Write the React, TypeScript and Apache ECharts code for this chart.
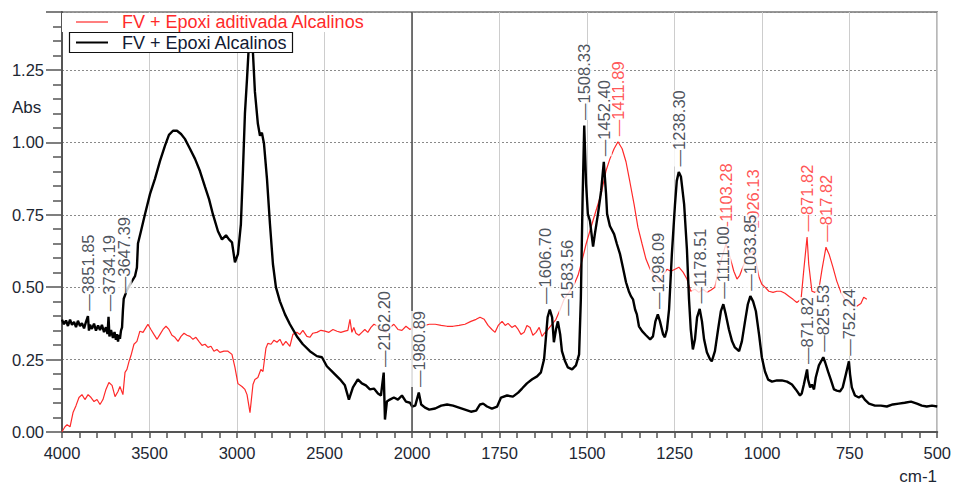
import React, { useEffect, useRef } from "react";
import * as echarts from "echarts";

// The wavenumber axis is compressed 2:1 above 2000 cm-1 (usual FTIR layout).
const BREAK_WN = 2000;
const toAxis = (wn: number) => (wn >= BREAK_WN ? (4000 - wn) / 2 : 1000 + (BREAK_WN - wn));
const fromAxis = (t: number) => Math.round(t <= 1000 ? 4000 - 2 * t : BREAK_WN - (t - 1000));

const xTickLabels = [4000, 3500, 3000, 2500, 2000, 1750, 1500, 1250, 1000, 750, 500];
const yTickLabels = [0, 0.25, 0.5, 0.75, 1.0, 1.25];

const BLACK_NAME = "FV + Epoxi Alcalinos";
const RED_NAME = "FV + Epoxi aditivada Alcalinos";

// FV + Epoxi Alcalinos: wavenumber (cm-1) / absorbance
const blackWn = [
  4000, 3989, 3977, 3966, 3954, 3943, 3931, 3920, 3909, 3897, 3886, 3874, 3863, 3851.85, 3846, 3840,
  3829, 3817, 3806, 3794, 3783, 3772, 3760, 3749, 3740, 3734.19, 3729, 3720, 3709, 3700, 3692, 3686,
  3680, 3674, 3669, 3663, 3657, 3652, 3647.39, 3629, 3606, 3583, 3572, 3566, 3549, 3526, 3497, 3469,
  3440, 3412, 3389, 3366, 3343, 3320, 3298, 3269, 3240, 3212, 3183, 3160, 3138, 3109, 3086, 3063,
  3046, 3029, 3012, 2995, 2978, 2966, 2955, 2943, 2932, 2921, 2909, 2898, 2881, 2869, 2858, 2846,
  2829, 2812, 2795, 2778, 2755, 2726, 2698, 2658, 2624, 2584, 2544, 2515, 2487, 2452, 2412, 2384,
  2361, 2338, 2310, 2287, 2264, 2241, 2218, 2195, 2178, 2162.2, 2155, 2144, 2127, 2104, 2081, 2058,
  2035, 2012, 2000, 1991, 1980.89, 1974, 1963, 1951, 1934, 1917, 1900, 1883, 1866, 1849, 1832, 1817,
  1806, 1797, 1786, 1772, 1757, 1746, 1729, 1712, 1697, 1686, 1672, 1657, 1643, 1632, 1623, 1617,
  1613, 1606.7, 1600, 1595, 1589, 1583.56, 1577, 1572, 1563, 1555, 1543, 1532, 1523, 1518, 1513, 1508.33,
  1503, 1498, 1492, 1483, 1478, 1469, 1460, 1452.4, 1446, 1443, 1435, 1423, 1415, 1406, 1398, 1389,
  1381, 1375, 1369, 1363, 1358, 1352, 1343, 1332, 1320, 1312, 1305, 1298.09, 1292, 1283, 1278, 1272,
  1266, 1258, 1249, 1244, 1238.3, 1232, 1223, 1215, 1209, 1204, 1198, 1192, 1186, 1178.51, 1172, 1166,
  1158, 1149, 1144, 1135, 1126, 1118, 1111.0, 1104, 1095, 1086, 1078, 1066, 1058, 1049, 1041, 1033.85,
  1026, 1018, 1009, 1001, 992, 983, 972, 958, 944, 929, 915, 904, 892, 887, 881, 871.82,
  869, 863, 858, 852, 847, 838, 825.53, 820, 812, 804, 795, 787, 778, 770, 761, 752.24,
  749, 744, 735, 724, 715, 707, 695, 678, 661, 644, 627, 610, 593, 575, 558, 544,
  530, 515, 500,
];
const blackAbs = [
  0.388, 0.372, 0.385, 0.366, 0.388, 0.37, 0.38, 0.362, 0.384, 0.366, 0.376, 0.358, 0.38, 0.4, 0.35, 0.37,
  0.356, 0.374, 0.35, 0.368, 0.352, 0.37, 0.345, 0.362, 0.338, 0.398, 0.33, 0.352, 0.325, 0.345, 0.318, 0.338,
  0.312, 0.335, 0.322, 0.35, 0.361, 0.42, 0.46, 0.49, 0.515, 0.538, 0.568, 0.651, 0.693, 0.752, 0.822, 0.874,
  0.936, 0.988, 1.026, 1.04, 1.04, 1.029, 1.012, 0.978, 0.943, 0.901, 0.846, 0.804, 0.752, 0.693, 0.665, 0.679,
  0.665, 0.655, 0.586, 0.614, 0.718, 0.908, 1.099, 1.22, 1.341, 1.445, 1.307, 1.175, 1.064, 1.023, 1.033, 0.995,
  0.874, 0.718, 0.58, 0.5, 0.451, 0.406, 0.372, 0.33, 0.303, 0.279, 0.262, 0.258, 0.227, 0.206, 0.182, 0.161,
  0.112, 0.154, 0.182, 0.168, 0.161, 0.147, 0.15, 0.133, 0.126, 0.205, 0.043, 0.105, 0.112, 0.119, 0.112, 0.126,
  0.105, 0.101, 0.088, 0.091, 0.136, 0.095, 0.084, 0.077, 0.081, 0.091, 0.095, 0.091, 0.084, 0.077, 0.07, 0.074,
  0.095, 0.098, 0.088, 0.081, 0.088, 0.119, 0.126, 0.122, 0.136, 0.15, 0.168, 0.182, 0.192, 0.206, 0.251, 0.337,
  0.396, 0.423, 0.396, 0.31, 0.354, 0.382, 0.337, 0.279, 0.244, 0.223, 0.216, 0.23, 0.268, 0.458, 0.804, 1.058,
  0.857, 0.753, 0.729, 0.64, 0.683, 0.753, 0.833, 0.933, 0.822, 0.753, 0.711, 0.683, 0.649, 0.614, 0.569, 0.517,
  0.486, 0.469, 0.458, 0.423, 0.406, 0.365, 0.348, 0.334, 0.32, 0.33, 0.382, 0.406, 0.382, 0.337, 0.327, 0.354,
  0.423, 0.614, 0.787, 0.867, 0.898, 0.881, 0.787, 0.631, 0.458, 0.354, 0.285, 0.32, 0.396, 0.425, 0.382, 0.32,
  0.275, 0.251, 0.244, 0.279, 0.354, 0.417, 0.441, 0.406, 0.354, 0.313, 0.292, 0.279, 0.313, 0.382, 0.441, 0.469,
  0.451, 0.417, 0.337, 0.258, 0.209, 0.181, 0.174, 0.178, 0.178, 0.174, 0.164, 0.147, 0.126, 0.133, 0.164, 0.216,
  0.181, 0.154, 0.164, 0.147, 0.188, 0.23, 0.258, 0.24, 0.209, 0.181, 0.147, 0.143, 0.14, 0.154, 0.199, 0.244,
  0.199, 0.154, 0.126, 0.119, 0.126, 0.112, 0.098, 0.091, 0.091, 0.088, 0.095, 0.098, 0.101, 0.105, 0.098, 0.091,
  0.088, 0.091, 0.088,
];

// FV + Epoxi aditivada Alcalinos: wavenumber (cm-1) / absorbance
const redWn = [
  4000, 3983, 3971, 3954, 3937, 3920, 3903, 3886, 3869, 3851, 3834, 3817, 3800, 3783, 3766, 3749,
  3732, 3714, 3697, 3680, 3669, 3652, 3640, 3629, 3617, 3606, 3589, 3572, 3555, 3537, 3520, 3509,
  3492, 3475, 3457, 3440, 3423, 3406, 3389, 3372, 3355, 3337, 3320, 3303, 3286, 3269, 3252, 3235,
  3218, 3200, 3183, 3166, 3149, 3132, 3115, 3098, 3075, 3052, 3029, 3012, 2995, 2972, 2955, 2943,
  2926, 2909, 2898, 2881, 2864, 2852, 2835, 2824, 2806, 2789, 2772, 2755, 2738, 2721, 2698, 2681,
  2658, 2641, 2624, 2601, 2584, 2567, 2544, 2521, 2498, 2475, 2452, 2429, 2407, 2384, 2367, 2355,
  2344, 2333, 2321, 2304, 2287, 2270, 2253, 2235, 2218, 2195, 2172, 2150, 2127, 2104, 2081, 2058,
  2035, 2012, 1997, 1986, 1974, 1963, 1951, 1934, 1917, 1900, 1883, 1866, 1849, 1832, 1817, 1806,
  1794, 1783, 1772, 1763, 1754, 1743, 1734, 1726, 1715, 1706, 1697, 1689, 1680, 1672, 1663, 1655,
  1646, 1637, 1629, 1620, 1612, 1600, 1589, 1577, 1566, 1552, 1537, 1526, 1515, 1503, 1489, 1475,
  1460, 1446, 1435, 1423, 1411.89, 1400, 1389, 1378, 1366, 1355, 1343, 1332, 1320, 1306, 1295, 1283,
  1272, 1261, 1249, 1238, 1226, 1215, 1204, 1192, 1181, 1169, 1158, 1146, 1135, 1124, 1112, 1103.28,
  1092, 1081, 1072, 1064, 1052, 1041, 1026.13, 1018, 1009, 1001, 992, 981, 969, 958, 947, 935,
  924, 912, 901, 889, 881, 871.82, 867, 858, 849, 838, 829, 817.82, 809, 798, 787, 775,
  764, 752, 741, 730, 718, 710, 701,
];
const redAbs = [
  0.001, 0.018, 0.025, 0.018, 0.067, 0.091, 0.119, 0.129, 0.112, 0.129, 0.119, 0.105, 0.112, 0.095, 0.112, 0.147,
  0.171, 0.161, 0.122, 0.14, 0.157, 0.129, 0.206, 0.216, 0.244, 0.264, 0.303, 0.313, 0.348, 0.344, 0.361, 0.372,
  0.354, 0.337, 0.32, 0.337, 0.354, 0.365, 0.354, 0.334, 0.327, 0.313, 0.33, 0.341, 0.334, 0.33, 0.32, 0.327,
  0.313, 0.299, 0.303, 0.292, 0.296, 0.279, 0.285, 0.275, 0.279, 0.279, 0.268, 0.223, 0.167, 0.157, 0.147, 0.129,
  0.067, 0.164, 0.181, 0.188, 0.216, 0.209, 0.289, 0.306, 0.303, 0.317, 0.31, 0.32, 0.299, 0.313, 0.296, 0.337,
  0.344, 0.337, 0.351, 0.33, 0.327, 0.341, 0.344, 0.351, 0.348, 0.344, 0.354, 0.348, 0.344, 0.348, 0.351, 0.389,
  0.344, 0.361, 0.341, 0.334, 0.344, 0.354, 0.344, 0.361, 0.372, 0.365, 0.354, 0.344, 0.361, 0.372, 0.354, 0.351,
  0.365, 0.354, 0.361, 0.361, 0.365, 0.368, 0.372, 0.372, 0.368, 0.365, 0.365, 0.368, 0.372, 0.382, 0.389, 0.396,
  0.389, 0.368, 0.354, 0.344, 0.368, 0.382, 0.368, 0.375, 0.361, 0.368, 0.354, 0.337, 0.344, 0.368, 0.361, 0.334,
  0.344, 0.361, 0.33, 0.344, 0.354, 0.372, 0.389, 0.423, 0.458, 0.482, 0.51, 0.541, 0.59, 0.649, 0.707, 0.763,
  0.822, 0.902, 0.943, 0.978, 1.002, 0.978, 0.933, 0.864, 0.787, 0.707, 0.649, 0.597, 0.562, 0.534, 0.517, 0.541,
  0.562, 0.555, 0.562, 0.569, 0.552, 0.528, 0.486, 0.493, 0.482, 0.493, 0.482, 0.49, 0.5, 0.562, 0.614, 0.65,
  0.604, 0.555, 0.528, 0.541, 0.579, 0.614, 0.625, 0.59, 0.534, 0.51, 0.5, 0.486, 0.482, 0.486, 0.486, 0.479,
  0.469, 0.458, 0.447, 0.458, 0.562, 0.673, 0.579, 0.486, 0.482, 0.493, 0.562, 0.638, 0.614, 0.569, 0.521, 0.482,
  0.458, 0.444, 0.437, 0.434, 0.444, 0.465, 0.458,
];

// Annotated band positions (cm-1)
const blackPeaks = [
  3851.85, 3734.19, 3647.39, 2162.2, 1980.89, 1606.7, 1583.56, 1508.33, 1452.4, 1298.09, 1238.3, 1178.51,
  1111.0, 1033.85, 871.82, 825.53, 752.24,
];
const redPeaks = [1411.89, 1103.28, 1026.13, 871.82, 817.82];

// Sideways nudges (px) for annotations that would otherwise overlap
const labelNudge: Record<string, number> = { "1606.70": -5, "1583.56": 9 };

const RED = "#ff2a2a";
const INK = "#1d2733";
const FONT = "Liberation Sans";

const toSeries = (wn: number[], ab: number[]) => wn.map((w, i) => [toAxis(w), ab[i]]);

// The label is turned 90 degrees, so its local y axis runs along the screen x axis.
const peakLabel = (color: string, dx = 0) => ({
  show: true,
  position: "top",
  distance: 5,
  rotate: 90,
  align: "left",
  verticalAlign: "middle",
  offset: [0, dx],
  formatter: (p: any) => "\u2014" + p.name,
  color,
  fontFamily: FONT,
  fontSize: 16.5,
  lineHeight: 16,
  backgroundColor: "#fff",
});

const peakPoints = (peaks: number[], wn: number[], ab: number[], color: string) =>
  peaks.map((p) => {
    const i = wn.indexOf(p);
    const name = p.toFixed(2);
    return { name, value: [toAxis(p), ab[i]], label: peakLabel(color, labelNudge[name] || 0) };
  });

export default function App() {
  const ref = useRef<HTMLDivElement>(null);

  useEffect(() => {
    if (!ref.current) return;
    const chart = echarts.init(ref.current, undefined, { renderer: "svg" });
    const axisColor = "#555";
    chart.setOption({
      animation: false,
      backgroundColor: "#fff",
      grid: {
        left: 62,
        top: 12,
        width: 876,
        height: 420,
        show: true,
        borderColor: "#777",
        borderWidth: 1.5,
        backgroundColor: "transparent",
      },
      xAxis: {
        type: "value",
        min: 0,
        max: 2500,
        interval: 250,
        axisLine: { onZero: false, lineStyle: { color: axisColor, width: 2 } },
        axisTick: { length: 6, lineStyle: { color: axisColor, width: 1.5 } },
        minorTick: { show: true, splitNumber: 5, length: 6, lineStyle: { color: axisColor, width: 1.5 } },
        axisLabel: {
          margin: 12,
          color: INK,
          fontFamily: FONT,
          fontSize: 16.5,
          formatter: (v: number) => {
            const wn = fromAxis(v);
            return xTickLabels.includes(wn) ? String(wn) : "";
          },
        },
        splitLine: { show: true, lineStyle: { color: "#cdcdcd", width: 1 } },
      },
      yAxis: {
        type: "value",
        min: 0,
        max: 1.45,
        interval: 0.25,
        axisLine: { show: true, lineStyle: { color: axisColor, width: 2 } },
        axisTick: { show: true, length: 16, lineStyle: { color: axisColor, width: 1.5 } },
        minorTick: { show: true, splitNumber: 5, length: 9, lineStyle: { color: axisColor, width: 1.5 } },
        axisLabel: {
          margin: 18,
          color: INK,
          fontFamily: FONT,
          fontSize: 16.5,
          formatter: (v: number) => {
            const hit = yTickLabels.find((t) => Math.abs(t - v) < 1e-6);
            return hit === undefined ? "" : hit.toFixed(2);
          },
        },
        splitLine: { show: true, lineStyle: { color: "#8a8a8a", type: [2, 2], width: 1 } },
      },
      graphic: [
        { type: "rect", z: 10, silent: true, shape: { x: 62, y: 13, width: 306, height: 19 }, style: { fill: "#fff" } },
        { type: "line", z: 10, silent: true, shape: { x1: 76, y1: 22, x2: 108, y2: 22 }, style: { stroke: RED, lineWidth: 1.2 } },
        {
          type: "text", z: 10, silent: true, x: 122, y: 22,
          style: { text: RED_NAME, fill: RED, font: `18px "${FONT}"`, verticalAlign: "middle" },
        },
        {
          type: "rect", z: 10, silent: true, shape: { x: 69.5, y: 32.5, width: 223, height: 20 },
          style: { fill: "#fff", stroke: "#111", lineWidth: 1.2 },
        },
        { type: "line", z: 10, silent: true, shape: { x1: 76, y1: 42.5, x2: 108, y2: 42.5 }, style: { stroke: "#000", lineWidth: 2 } },
        {
          type: "text", z: 10, silent: true, x: 122, y: 43,
          style: { text: BLACK_NAME, fill: "#111a33", font: `18px "${FONT}"`, verticalAlign: "middle" },
        },
        {
          type: "text", z: 10, silent: true, x: 12, y: 107,
          style: { text: "Abs", fill: INK, font: `17px "${FONT}"`, verticalAlign: "middle" },
        },
        {
          type: "text", z: 10, silent: true, x: 937, y: 476,
          style: { text: "cm-1", fill: INK, font: `17px "${FONT}"`, align: "right", verticalAlign: "middle" },
        },
      ],
      series: [
        {
          name: RED_NAME,
          type: "line",
          z: 2,
          silent: true,
          symbol: "none",
          data: toSeries(redWn, redAbs),
          lineStyle: { color: RED, width: 1.2 },
        },
        {
          name: BLACK_NAME,
          type: "line",
          z: 3,
          silent: true,
          symbol: "none",
          data: toSeries(blackWn, blackAbs),
          lineStyle: { color: "#000", width: 2.4 },
          markLine: {
            silent: true,
            symbol: "none",
            label: { show: false },
            lineStyle: { color: "#4a4a4a", width: 1.5, type: "solid" },
            data: [{ xAxis: toAxis(BREAK_WN) }],
          },
        },
        {
          type: "scatter",
          z: 4,
          silent: true,
          symbolSize: 1,
          itemStyle: { color: "rgba(0,0,0,0)" },
          data: peakPoints(redPeaks, redWn, redAbs, RED),
        },
        {
          type: "scatter",
          z: 5,
          silent: true,
          symbolSize: 1,
          itemStyle: { color: "rgba(0,0,0,0)" },
          data: peakPoints(blackPeaks, blackWn, blackAbs, INK),
        },
      ],
    });
    return () => chart.dispose();
  }, []);

  return <div ref={ref} style={{ position: "fixed", left: 0, top: 0, width: 954, height: 484 }} />;
}
